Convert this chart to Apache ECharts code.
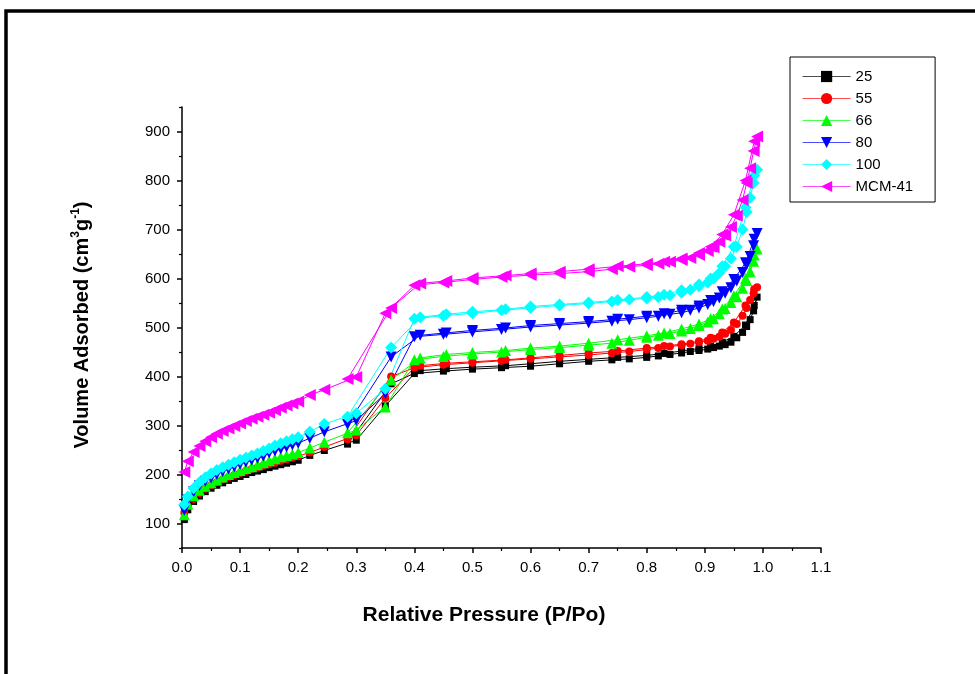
<!DOCTYPE html>
<html>
<head>
<meta charset="utf-8">
<script src="https://cdn.jsdelivr.net/npm/echarts@6/dist/echarts.min.js"></script>
<style>
html,body{margin:0;padding:0;background:#fff}
#chart{width:975px;height:674px}
</style>
</head>
<body>
<div id="chart"></div>
<script>
// N2 sorption isotherms: relative pressure on the adsorption branch, then the desorption branch
const adsP = [0.004, 0.01, 0.02, 0.03, 0.04, 0.05, 0.06, 0.07, 0.08, 0.09, 0.10, 0.11, 0.12, 0.13, 0.14, 0.15, 0.16, 0.17, 0.18, 0.19, 0.20, 0.22, 0.245, 0.30, 0.35, 0.40, 0.45, 0.50, 0.55, 0.60, 0.65, 0.70, 0.74, 0.77, 0.80, 0.82, 0.84, 0.86, 0.875, 0.89, 0.905, 0.915, 0.925, 0.935, 0.945, 0.955, 0.965, 0.972, 0.978, 0.984, 0.99];
const desP = [0.985, 0.97, 0.95, 0.93, 0.91, 0.89, 0.86, 0.83, 0.80, 0.75, 0.70, 0.65, 0.60, 0.557, 0.50, 0.455, 0.41, 0.36, 0.285];

// Volume adsorbed (cm3/g), sample 25
const ads25 = [108, 128, 145, 156, 165, 172, 178, 183, 188, 192, 196, 200, 204, 207, 210, 214, 217, 220, 223, 226, 229, 239, 249, 270, 340, 406, 411, 415, 418, 421, 426, 431, 434, 436, 439, 442, 445, 448, 451, 453, 456, 459, 462, 465, 470, 479, 490, 502, 516, 534, 562];
const des25 = [545, 505, 482, 470, 462, 457, 452, 447, 443, 439, 435, 431, 426, 422, 419, 416, 412, 385, 262];
// sample 55
const ads55 = [122, 135, 150, 162, 171, 178, 184, 190, 195, 199, 203, 207, 211, 214, 218, 221, 224, 228, 231, 234, 237, 245, 256, 280, 356, 418, 424, 428, 432, 436, 440, 444, 448, 451, 455, 458, 461, 464, 467, 470, 473, 477, 481, 487, 495, 507, 524, 540, 556, 570, 582];
const des55 = [578, 545, 510, 490, 479, 472, 466, 462, 458, 452, 448, 443, 438, 434, 430, 427, 422, 400, 272];
// sample 66
const ads66 = [118, 140, 157, 168, 176, 183, 189, 195, 200, 204, 208, 212, 216, 220, 224, 228, 232, 236, 239, 242, 245, 254, 266, 291, 338, 434, 441, 446, 450, 455, 459, 464, 468, 474, 480, 484, 488, 493, 498, 504, 511, 518, 528, 539, 551, 563, 580, 596, 614, 635, 660];
const des66 = [648, 600, 565, 538, 518, 507, 497, 489, 483, 475, 468, 462, 458, 453, 449, 445, 438, 393, 285];
// sample 80
const ads80 = [127, 148, 165, 177, 186, 193, 200, 206, 211, 216, 221, 225, 229, 233, 237, 244, 248, 252, 256, 260, 264, 274, 287, 310, 365, 481, 486, 491, 496, 501, 505, 509, 513, 516, 520, 523, 527, 530, 535, 540, 547, 553, 560, 570, 581, 595, 612, 628, 645, 667, 692];
const des80 = [680, 632, 598, 573, 555, 544, 535, 528, 523, 517, 512, 508, 504, 499, 494, 489, 484, 440, 302];
// sample 100
const ads100 = [139, 155, 172, 184, 194, 202, 209, 215, 220, 225, 230, 234, 239, 243, 248, 253, 259, 264, 268, 272, 276, 287, 303, 325, 375, 518, 524, 529, 535, 540, 545, 549, 553, 557, 559, 562, 566, 571, 577, 584, 592, 600, 611, 625, 641, 665, 700, 735, 765, 795, 822];
const des100 = [810, 745, 665, 625, 600, 588, 576, 567, 562, 556, 551, 547, 543, 537, 532, 527, 521, 459, 318];
// MCM-41
const adsMCM = [205, 227, 246, 258, 268, 276, 283, 289, 294, 299, 304, 309, 314, 318, 322, 326, 331, 336, 341, 345, 349, 362, 373, 399, 529, 586, 592, 598, 603, 607, 610, 614, 619, 624, 627, 630, 634, 638, 642, 648, 656, 664, 675, 688, 705, 728, 760, 795, 825, 860, 890];
const desMCM = [880, 800, 730, 690, 665, 652, 641, 634, 630, 625, 619, 614, 610, 606, 601, 595, 590, 540, 395];

const names = ['25', '55', '66', '80', '100', 'MCM-41'];
const xTicks = [0, 0.1, 0.2, 0.3, 0.4, 0.5, 0.6, 0.7, 0.8, 0.9, 1.0, 1.1];
const yTicks = [100, 200, 300, 400, 500, 600, 700, 800, 900];
const yMinorTicks = [50, 150, 250, 350, 450, 550, 650, 750, 850, 950];

function branchPairs(ads, des) {
  const pts = [];
  adsP.forEach((p, i) => pts.push([p, ads[i]]));
  desP.forEach((p, i) => pts.push([p, des[i]]));
  return pts;
}

const styles = [
  { color: '#000000', symbol: 'rect', size: 7, rotate: 0 },
  { color: '#ff0000', symbol: 'circle', size: 8, rotate: 0 },
  { color: '#00ff00', symbol: 'triangle', size: 11, rotate: 0 },
  { color: '#0000ff', symbol: 'triangle', size: 11, rotate: 180 },
  { color: '#00ffff', symbol: 'diamond', size: 12, rotate: 0 },
  { color: '#ff00ff', symbol: 'triangle', size: 12, rotate: 90 }
];
const values = [[ads25, des25], [ads55, des55], [ads66, des66], [ads80, des80], [ads100, des100], [adsMCM, desMCM]];

const FONT = 'Liberation Sans, Arial, sans-serif';

const chart = echarts.init(document.getElementById('chart'), null, { renderer: 'canvas' });
chart.setOption({
  animation: false,
  backgroundColor: '#ffffff',
  grid: { left: 182, top: 107, width: 639, height: 441, containLabel: false, outerBoundsMode: 'none' },
  xAxis: {
    type: 'value', min: 0, max: 1.1, interval: 0.1,
    axisLine: { lineStyle: { color: '#000', width: 1.5 } },
    axisTick: { length: 5, lineStyle: { color: '#000', width: 1.5 } },
    minorTick: { show: true, splitNumber: 2, length: 3, lineStyle: { color: '#000', width: 1.2 } },
    splitLine: { show: false },
    axisLabel: { fontSize: 15, color: '#000', fontFamily: FONT, margin: 12,
      formatter: v => xTicks.some(t => Math.abs(t - v) < 1e-6) ? v.toFixed(1) : '' }
  },
  yAxis: [{
    type: 'value', min: 50, max: 950, interval: 50,
    axisLine: { show: true, lineStyle: { color: '#000', width: 1.5 } },
    axisTick: { show: true, length: 5, customValues: yTicks, lineStyle: { color: '#000', width: 1.5 } },
    splitLine: { show: false },
    axisLabel: { fontSize: 15, color: '#000', fontFamily: FONT, margin: 12, customValues: yTicks }
  }, {
    type: 'value', min: 50, max: 950, position: 'left',
    axisLine: { show: false },
    axisTick: { show: true, length: 3, customValues: yMinorTicks, lineStyle: { color: '#000', width: 1.2 } },
    splitLine: { show: false },
    axisLabel: { show: false }
  }],
  legend: {
    orient: 'vertical', left: 790, top: 57,
    borderColor: '#000', borderWidth: 1,
    padding: [12, 22, 8, 12],
    itemWidth: 48, itemHeight: 14, itemGap: 7,
    lineStyle: { width: 1.2, opacity: 0.7 },
    textStyle: { fontSize: 15, color: '#000', fontFamily: FONT },
    data: names
  },
  series: names.map((n, i) => ({
    name: n, type: 'line',
    data: branchPairs(values[i][0], values[i][1]),
    symbol: styles[i].symbol, symbolSize: styles[i].size, symbolRotate: styles[i].rotate,
    showSymbol: true,
    lineStyle: { color: styles[i].color, width: 1 },
    itemStyle: { color: styles[i].color },
    emphasis: { disabled: true }
  })),
  graphic: [
    { type: 'rect', shape: { x: 6, y: 11, width: 1100, height: 800 },
      style: { fill: 'none', stroke: '#000', lineWidth: 3.5 }, silent: true },
    { type: 'text', x: 484, y: 615,
      style: { text: 'Relative Pressure (P/Po)', font: 'bold 21px ' + FONT, fill: '#000',
        align: 'center', verticalAlign: 'middle' } },
    { type: 'text', x: 82, y: 325, rotation: Math.PI / 2,
      style: {
        text: '{b|Volume Adsorbed (cm}{s|3}{b|g}{s|-1}{b|)}',
        align: 'center', verticalAlign: 'middle', fill: '#000',
        rich: {
          b: { fontSize: 20, fontWeight: 'bold', fontFamily: FONT, fill: '#000', lineHeight: 24 },
          s: { fontSize: 12, fontWeight: 'bold', fontFamily: FONT, fill: '#000', verticalAlign: 'top', lineHeight: 24, padding: [0, 0, 11, 0] }
        }
      } }
  ]
});
</script>
</body>
</html>
